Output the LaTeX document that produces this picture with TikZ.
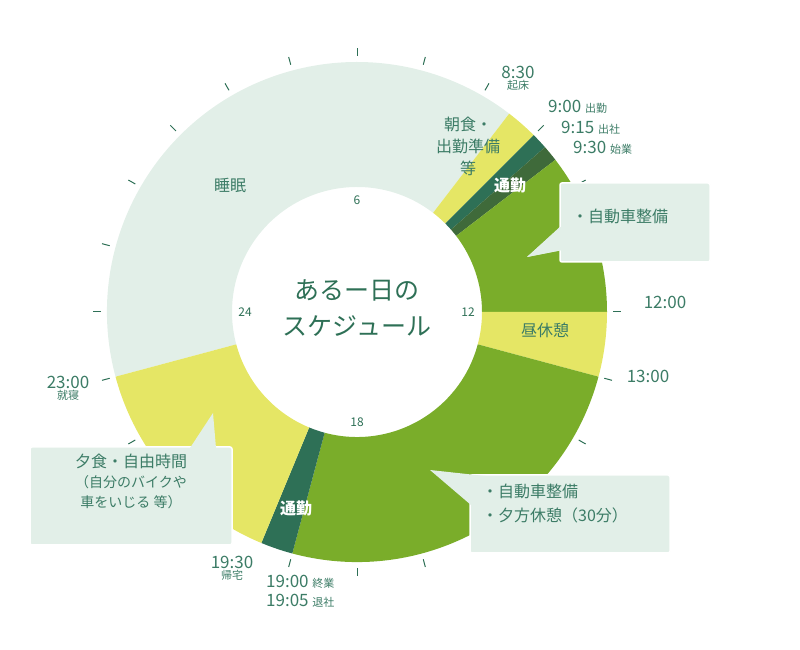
\documentclass[tikz,border=0pt]{standalone}
\usepackage{fontspec}
\setmainfont{Noto Sans CJK JP}
\usetikzlibrary{positioning}
\definecolor{sleepc}{HTML}{E2EFE8}
\definecolor{yelc}{HTML}{E5E665}
\definecolor{grnc}{HTML}{7AAD2A}
\definecolor{drkc}{HTML}{2E7056}
\definecolor{drk2c}{HTML}{3F6A3A}
\definecolor{txtc}{HTML}{3C7C66}
\newcommand{\seg}[3]{\fill[#1] (#2:125pt) arc[start angle=#2,end angle=#3,radius=125pt] -- (#3:250pt) arc[start angle=#3,end angle=#2,radius=250pt] -- cycle;}
\tikzset{
  timelbl/.style={text=txtc, font=\fontsize{17}{18}\selectfont, inner sep=0pt},
  smalllbl/.style={text=txtc, font=\fontsize{11}{12}\selectfont, inner sep=0pt},
  seglbl/.style={text=txtc, font=\fontsize{16}{22}\selectfont, align=center, inner sep=0pt},
  notebox/.style={fill=sleepc, draw=white, line width=1.5pt, rounded corners=2pt},
  notetxt/.style={text=txtc, font=\fontsize{16}{24}\selectfont, align=left, anchor=north west, inner sep=0pt}
}
\begin{document}
\begin{tikzpicture}[x=1pt,y=1pt]
    \useasboundingbox (0,0) rectangle (800,650);
    \begin{scope}[shift={(357,338)}]
        % ring segments
        \seg{sleepc}{52.5}{195}
        \seg{yelc}{45}{52.5}
        \seg{drkc}{41.25}{45}
        \seg{drk2c}{37.5}{41.25}
        \seg{grnc}{0}{37.5}
        \seg{yelc}{-15}{0}
        \seg{grnc}{-105}{-15}
        \seg{drkc}{-112.5}{-105}
        \seg{yelc}{-165}{-112.5}
        % hour ticks
        \foreach \h in {0,...,23}
            \draw[drkc, line width=1pt] ({180-15*\h}:256pt) -- ({180-15*\h}:264pt);
        \node[text=drkc, font=\fontsize{12}{12}\selectfont] (h6) at (90:112pt) {6};
        \node[text=drkc, font=\fontsize{12}{12}\selectfont] (h12) at (0:111pt) {12};
        \node[text=drkc, font=\fontsize{12}{12}\selectfont] (h18) at (-90:110pt) {18};
        \node[text=drkc, font=\fontsize{12}{12}\selectfont] (h24) at (180:112pt) {24};
        \node[text=drkc, font=\fontsize{25}{36}\selectfont, align=center] (title) at (0,4) {あるー日の\\スケジュール};
    \end{scope}
    % segment labels
    \node[seglbl] (sleep) at (230,465) {睡眠};
    \node[seglbl] (breakfast) at (468,504) {朝食・\\出勤準備\\等};
    \node[seglbl, text=white, font=\bfseries\fontsize{16}{18}\selectfont] (commute1) at (510,465) {通勤};
    \node[seglbl] (lunch) at (545,320) {昼休憩};
    \node[seglbl, text=white, font=\bfseries\fontsize{16}{18}\selectfont] (commute2) at (296,142) {通勤};
    % time labels
    \node[timelbl] (t830) at (518,578) {8:30};
    \node[smalllbl] (wake) [below=2pt of t830] {起床};
    \node[timelbl, anchor=west] (t900) at (548,543) {9:00 \fontsize{11}{12}\selectfont 出勤};
    \node[timelbl, anchor=west] (t915) at (561,522) {9:15 \fontsize{11}{12}\selectfont 出社};
    \node[timelbl, anchor=west] (t930) at (573,502) {9:30 \fontsize{11}{12}\selectfont 始業};
    \node[timelbl] (t1200) at (665,348) {12:00};
    \node[timelbl] (t1300) at (648,274) {13:00};
    \node[timelbl] (t2300) at (68,268) {23:00};
    \node[smalllbl] (sleepin) [below=2pt of t2300] {就寝};
    \node[timelbl] (t1930) at (232,88) {19:30};
    \node[smalllbl] (home) [below=2pt of t1930] {帰宅};
    \node[timelbl, anchor=west] (t1900) at (266,68) {19:00 \fontsize{11}{12}\selectfont 終業};
    \node[timelbl, anchor=west] (t1905) at (266,49) {19:05 \fontsize{11}{12}\selectfont 退社};
    % callouts
    \fill[sleepc] (527,393) -- (562,425) -- (562,400) -- cycle;
    \draw[notebox] (560,388) rectangle (710,467);
    \fill[sleepc] (527,393) -- (563,425) -- (563,400) -- cycle;
    \node[notetxt] (note1) at (572,441) {・自動車整備};
    \draw[notebox] (470,97) rectangle (670,175);
    \fill[sleepc] (430,180) -- (471,145) -- (485,174) -- cycle;
    \node[notetxt] (note2) at (482,166) {・自動車整備\\・夕方休憩（30分）};
    \draw[notebox] (30,105) rectangle (232,203);
    \fill[sleepc] (213,237) -- (190,202) -- (216,202) -- cycle;
    \node[notetxt, align=center, anchor=north] (note3) at (131,196) {夕食・自由時間\\[-4pt]{\fontsize{14}{22}\selectfont （自分のバイクや}\\[-4pt]{\fontsize{14}{22}\selectfont 車をいじる 等）}};
\end{tikzpicture}
\end{document}
